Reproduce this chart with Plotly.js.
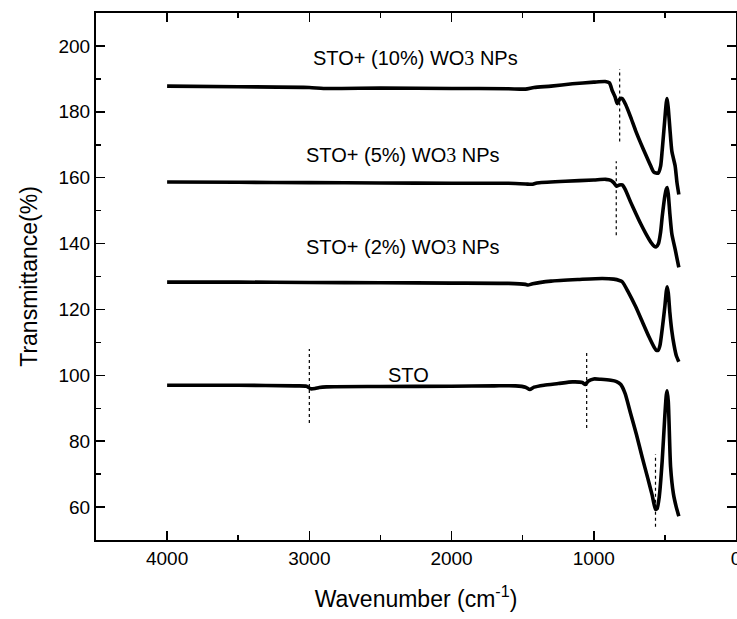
<!DOCTYPE html>
<html>
<head>
<meta charset="utf-8">
<script src="https://cdn.plot.ly/plotly-3.0.1.min.js"></script>
<style>html,body{margin:0;padding:0;background:#fff;}#chart{width:737px;height:619px;}</style>
</head>
<body>
<div id="chart"></div>
<script>
// Wavenumber (cm^-1) and transmittance (%) for each sample
const wnSTO = [4000,3500,3100,3020,2990,2960,2930,2880,2500,2000,1700,1550,1480,1450,1420,1350,1250,1150,1080,1060,1040,1000,950,880,840,810,780,741,700,660,620,590,566,555,540,519,500,490,484,476,460,440,420,402];
const tSTO  = [97,97,96.8,96.7,95.9,96.0,96.3,96.5,96.6,96.7,96.8,96.8,96.4,95.7,96.4,97.0,97.5,98.0,97.8,97.2,98.2,98.9,98.8,98.5,98.1,97.2,94.5,88.4,82,75.2,68.7,63.7,59.3,59.5,63,74,88,94,95.3,92,72.2,64,60,57.2];

const wn2 = [4000,3500,3000,2500,2000,1600,1480,1462,1430,1300,1100,940,860,820,800,760,705,660,612,575,560,547,535,519,500,490,484,476,465,452,435,420,402];
const t2  = [128.3,128.3,128.2,128.1,128.0,127.9,127.6,127.4,127.8,128.6,129.1,129.4,129.2,128.8,128.4,125.5,120.8,116.4,111.7,108.5,107.6,107.6,109,114,121,125.5,126.9,125,119,113.7,109,106,104.1];

const wn5 = [4000,3500,3000,2500,2000,1600,1480,1436,1400,1200,1000,917,880,860,840,820,800,780,740,705,670,635,600,575,561,545,530,519,500,490,484,476,465,451,428,415,402];
const t5  = [158.7,158.6,158.5,158.4,158.3,158.3,158.1,158.0,158.4,158.9,159.3,159.5,159.2,158.5,157.4,157.8,157.8,156.5,152.5,149.2,146,143.1,140.5,139.2,139,140,143.5,148.1,154.5,156.5,157.0,155,149,142.9,138.3,135.5,132.8];

const wn10 = [4000,3500,3000,2900,2500,2000,1600,1480,1420,1300,1150,1000,920,890,870,850,835,815,800,776,740,706,670,636,600,578,547,530,519,500,490,484,476,465,451,428,415,402];
const t10  = [187.8,187.6,187.4,187.1,187.2,187.1,187.0,186.9,187.4,187.8,188.5,189,189.2,188.8,186.4,184.5,182.5,184.0,184.0,182.2,178.3,174.3,170.5,167.1,163.6,161.7,161.4,163.5,168.3,178,182.8,184.0,181,175,168,163.6,158.5,154.9];

// dotted marker lines: wavenumber, top and bottom transmittance
const markWn  = [3000, 1050, 566, 842, 818];
const markTop = [108, 107, 76, 165, 193];
const markBot = [85.5, 84, 54, 142.5, 171];

// sample labels
const sub3 = '<span style="font-family:\'Liberation Serif\', serif">3</span>';
const labelText = ['STO', 'STO+ (2%) WO' + sub3 + ' NPs', 'STO+ (5%) WO' + sub3 + ' NPs', 'STO+ (10%) WO' + sub3 + ' NPs'];
const labelWn = [2300, 2339, 2344, 2257];
const labelT  = [100.2, 139, 166.9, 196.3];

const xTicks = [4000, 3000, 2000, 1000, 0];
const yTicks = [60, 80, 100, 120, 140, 160, 180, 200];

const series = [[wnSTO,tSTO],[wn2,t2],[wn5,t5],[wn10,t10]];
const traces = series.map(s => ({
  x: s[0], y: s[1], type: 'scatter', mode: 'lines',
  line: {color: '#000', width: 3.6, shape: 'spline', smoothing: 0.6},
  hoverinfo: 'skip', showlegend: false
}));
markWn.forEach((w, i) => {
  traces.push({
    x: [w, w], y: [markBot[i], markTop[i]], type: 'scatter', mode: 'lines',
    line: {color: '#000', width: 1.2, dash: 'dot'}, showlegend: false, hoverinfo: 'skip'
  });
});

const annotations = labelText.map((t, i) => ({
  x: labelWn[i], y: labelT[i], xref: 'x', yref: 'y', text: t, showarrow: false,
  font: {family: 'Liberation Sans, Arial, sans-serif', size: 20, color: '#000'}
}));

const layout = {
  width: 737, height: 619,
  margin: {l: 96, r: 1, t: 13, b: 79},
  paper_bgcolor: '#fff', plot_bgcolor: '#fff',
  font: {family: 'Liberation Sans, Arial, sans-serif', color: '#000'},
  showlegend: false,
  xaxis: {
    range: [4500, 0], tickvals: xTicks, ticktext: xTicks.map(String),
    ticks: 'inside', ticklen: 9, tickwidth: 1.5, tickcolor: '#000',
    minor: {dtick: 500, ticks: 'inside', ticklen: 5, tickwidth: 1.5, tickcolor: '#000', tick0: 0},
    showline: true, linecolor: '#000', linewidth: 2, mirror: 'ticks',
    showgrid: false, zeroline: false, ticklabeloverflow: 'allow',
    tickfont: {size: 19, color: '#000'},
    title: {text: 'Wavenumber (cm<sup>-1</sup>)', font: {size: 23, color: '#000'}, standoff: 23}
  },
  yaxis: {
    range: [50, 210], tickvals: yTicks, ticktext: yTicks.map(String),
    ticks: 'inside', ticklen: 9, tickwidth: 1.5, tickcolor: '#000',
    minor: {dtick: 10, ticks: 'inside', ticklen: 5, tickwidth: 1.5, tickcolor: '#000', tick0: 0},
    showline: true, linecolor: '#000', linewidth: 2, mirror: 'ticks',
    showgrid: false, zeroline: false,
    tickfont: {size: 19, color: '#000'},
    title: {text: 'Transmittance(%)', font: {size: 23, color: '#000'}, standoff: 14}
  },
  annotations: annotations
};

Plotly.newPlot('chart', traces, layout, {staticPlot: true, displayModeBar: false});
</script>
</body>
</html>
